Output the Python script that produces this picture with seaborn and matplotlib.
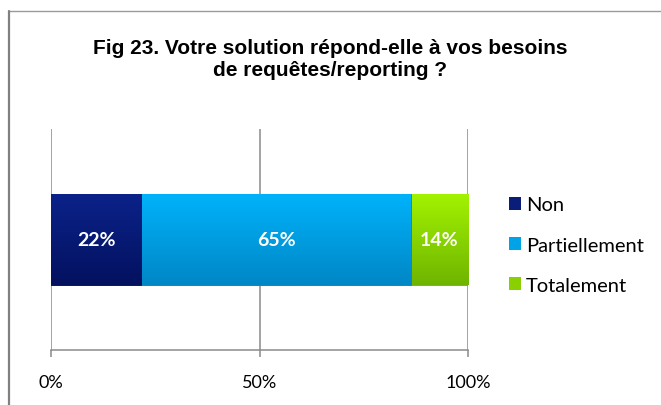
import numpy as np
import pandas as pd
import seaborn as sns
from matplotlib import pyplot as plt
from matplotlib.colors import LinearSegmentedColormap
from matplotlib.lines import Line2D
from matplotlib.patches import Patch

# answers to "Votre solution répond-elle à vos besoins de requêtes/reporting ?"
answers = ['Non', 'Partiellement', 'Totalement']
shares = [21.6, 64.7, 13.7]
ticks = [0, 50, 100]
tick_labels = ['0%', '50%', '100%']

# (top, bottom) colours of the vertical gradient in each segment
colors = {
    'Non': ('#0b2289', '#03115f'),
    'Partiellement': ('#00b2fa', '#0087c6'),
    'Totalement': ('#a2f200', '#6fb500'),
}
legend_colors = {'Non': '#0a1d78', 'Partiellement': '#00a4e6', 'Totalement': '#8ad000'}

df = pd.DataFrame({'answer': answers, 'share': shares})
df['end'] = df['share'].cumsum()
df['start'] = df['end'] - df['share']
df['row'] = 'all'

sns.set_style('white')
plt.rcParams['font.family'] = ['Lato', 'DejaVu Sans']
plt.rcParams['text.color'] = 'black'
plt.rcParams['xtick.labelcolor'] = 'black'

fig = plt.figure(figsize=(6.61, 4.06), dpi=100)
ax = fig.add_axes([51 / 661, 1 - 351 / 406, 417 / 661, 221 / 406])

bar_w = 0.41
# stacked bar: draw the cumulative totals from the longest to the shortest
for i, (_, r) in enumerate(df.iloc[::-1].iterrows()):
    before = len(ax.patches)
    sns.barplot(x=[r['end']], y=[r['row']], orient='h', width=bar_w,
                color=legend_colors[r['answer']], ax=ax, zorder=3 + i)
    top, bottom = colors[r['answer']]
    cmap = LinearSegmentedColormap.from_list(r['answer'], [top, bottom])
    grad = np.linspace(0, 1, 64).reshape(-1, 1)
    for p in ax.patches[before:]:
        p.set_edgecolor(bottom)
        p.set_linewidth(0.6)
        x0, y0, w, h = p.get_x(), p.get_y(), p.get_width(), p.get_height()
        im = ax.imshow(grad, cmap=cmap, aspect='auto', origin='upper',
                       extent=(x0, x0 + w, y0 + h, y0), zorder=3.5 + i)
        im.set_clip_path(p)

for _, r in df.iterrows():
    ax.text(r['start'] + r['share'] / 2, 0, f"{r['share']:.0f}%",
            ha='center', va='center', color='white', fontsize=14,
            fontweight='bold', zorder=10)

ax.set_xlim(0, 100)
ax.set_ylim(0.5, -0.5)
ax.set_xticks(ticks)
ax.set_xticklabels(tick_labels, fontsize=13)
ax.set_yticks([])
ax.set_xlabel('')
ax.set_ylabel('')
ax.set_axisbelow(True)
ax.grid(axis='x', color='#8a8a8a', linewidth=1.1)
ax.tick_params(axis='x', direction='out', length=5, width=1.1, color='#8a8a8a',
               pad=12, bottom=True)
for side in ['top', 'left', 'right']:
    ax.spines[side].set_visible(False)
ax.spines['bottom'].set_color('#8a8a8a')
ax.spines['bottom'].set_linewidth(1.1)

handles = [Patch(facecolor=legend_colors[a], edgecolor='none') for a in answers]
fig.legend(handles, answers, loc='center left', bbox_to_anchor=(491 / 661, 1 - 246 / 406),
           frameon=False, fontsize=14.5, handlelength=0.6, handleheight=0.6,
           handletextpad=0.25, labelspacing=1.15)

fig.text(0.5, 1 - 59.5 / 406,
         'Fig 23. Votre solution répond-elle à vos besoins\nde requêtes/reporting ?',
         ha='center', va='center', fontsize=15, fontweight='bold', color='black',
         family=['Liberation Sans', 'DejaVu Sans'], linespacing=1.15)

# chart frame (only the top and left edges are visible)
fig.add_artist(Line2D([8.5 / 661, 1], [1 - 11.5 / 406] * 2, color='#9a9a9a', linewidth=1.0))
fig.add_artist(Line2D([8.5 / 661] * 2, [0, 1 - 11.5 / 406], color='#808080', linewidth=1.6))

fig.savefig('out.png', dpi=100)
